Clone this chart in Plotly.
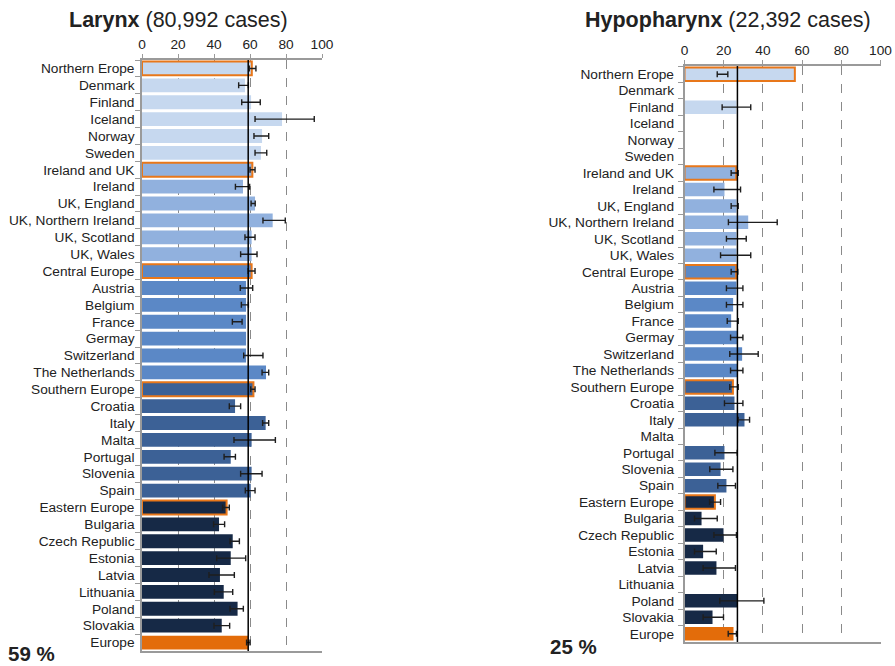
import plotly.graph_objects as go

# Row labels, top to bottom
regions = [
    "Northern Erope", "Denmark", "Finland", "Iceland", "Norway", "Sweden",
    "Ireland and UK", "Ireland", "UK, England", "UK, Northern Ireland", "UK, Scotland", "UK, Wales",
    "Central Europe", "Austria", "Belgium", "France", "Germay", "Switzerland", "The Netherlands",
    "Southern Europe", "Croatia", "Italy", "Malta", "Portugal", "Slovenia", "Spain",
    "Eastern Europe", "Bulgaria", "Czech Republic", "Estonia", "Latvia", "Lithuania", "Poland", "Slovakia",
    "Europe",
]
# Colour group of each row
groups = (["north"] * 6 + ["uk"] * 6 + ["central"] * 7 + ["south"] * 7 + ["east"] * 8 + ["europe"])
# Rows that are regional aggregates (outlined)
aggregates = ["Northern Erope", "Ireland and UK", "Central Europe", "Southern Europe", "Eastern Europe"]

# Larynx: 5-year relative survival (%) and confidence limits
larynx_value = [61.0, 57.2, 60.6, 77.8, 66.7, 66.1,
                61.3, 56.1, 62.8, 72.6, 60.9, 60.9,
                60.9, 57.8, 57.8, 57.8, 57.8, 57.8, 68.9,
                61.9, 51.7, 68.7, 60.9, 49.3, 60.9, 60.4,
                47.0, 42.8, 50.4, 49.3, 43.3, 45.4, 53.1, 44.3,
                59.0]
larynx_lo = [59.6, 53.7, 55.4, 62.8, 62.2, 62.8,
             60.0, 51.9, 60.6, 67.2, 57.2, 54.8,
             59.0, 54.6, 55.2, 50.2, None, 56.5, 66.7,
             60.4, 48.5, 67.0, 51.1, 45.6, 54.8, 57.4,
             44.8, 39.8, 48.9, 41.5, 37.2, 40.2, 48.9, 40.0,
             58.1]
larynx_hi = [63.3, 59.1, 65.7, 95.7, 70.4, 69.3,
             62.8, 59.8, 62.9, 79.6, 62.8, 63.9,
             62.8, 61.5, 59.1, 55.6, None, 67.2, 70.4,
             62.8, 54.8, 70.4, 74.1, 51.9, 66.7, 62.8,
             48.5, 45.9, 54.1, 57.6, 51.3, 50.4, 56.3, 48.7,
             60.0]
larynx_europe = 59

# Hypopharynx
hyp_value = [56.3, None, 26.5, None, None, None,
             26.4, 20.4, 26.5, 32.5, 26.5, 26.5,
             26.4, 26.5, 24.8, 23.8, 27.2, 29.4, 27.2,
             24.7, 25.5, 30.6, None, 20.4, 18.4, 21.4,
             15.5, 8.7, 19.9, 9.5, 16.3, None, 27.2, 14.3,
             25.0]
hyp_lo = [16.7, None, 19.2, None, None, None,
          23.8, 15.0, 23.8, 22.4, 21.4, 18.4,
          23.8, 21.4, 21.4, 21.8, 23.5, 23.1, 23.5,
          23.1, 20.4, 27.4, None, 15.5, 12.9, 17.0,
          12.8, 5.1, 15.0, 5.1, 9.5, None, 18.0, 9.5,
          22.3]
hyp_hi = [22.1, None, 33.8, None, None, None,
          27.4, 28.6, 27.4, 47.3, 31.5, 33.8,
          27.2, 29.8, 29.8, 27.4, 29.8, 37.6, 29.8,
          27.4, 29.8, 33.2, None, 26.9, 24.7, 26.0,
          18.4, 16.7, 26.5, 16.2, 26.0, None, 40.5, 19.9,
          26.5]
hyp_europe = 25
hyp_reference = 27

x_ticks = [0, 20, 40, 60, 80, 100]

group_colors = {
    "north": "#c6d8ef",
    "uk": "#91b1de",
    "central": "#5b88c6",
    "south": "#3c6196",
    "east": "#162946",
    "europe": "#e36c0a",
}
outline_color = "#e8771a"

W, H = 895, 666
FONT = "Arial, Liberation Sans, sans-serif"


def px_x(p):
    return p / W


def px_y(p):
    return 1 - p / H


bar_colors = [group_colors[g] for g in groups]
line_colors = [outline_color if r in aggregates else "rgba(0,0,0,0)" for r in regions]
line_widths = [2 if r in aggregates else 0 for r in regions]

fig = go.Figure()


def add_panel(values, lo, hi, xa, ya):
    fig.add_trace(go.Bar(
        x=values, y=regions, orientation="h",
        marker=dict(color=bar_colors, line=dict(color=line_colors, width=line_widths)),
        xaxis=xa, yaxis=ya, showlegend=False, hoverinfo="skip",
    ))
    ex, ey, err = [], [], []
    for r, a, b in zip(regions, lo, hi):
        if a is None or b is None:
            continue
        ex.append((a + b) / 2)
        ey.append(r)
        err.append((b - a) / 2)
    fig.add_trace(go.Scatter(
        x=ex, y=ey, mode="markers",
        marker=dict(size=1, opacity=0),
        error_x=dict(type="data", array=err, symmetric=True, color="#1e1e1e", thickness=1.4, width=3),
        xaxis=xa, yaxis=ya, showlegend=False, hoverinfo="skip",
    ))


add_panel(larynx_value, larynx_lo, larynx_hi, "x", "y")
add_panel(hyp_value, hyp_lo, hyp_hi, "x2", "y2")

axis_font = dict(family=FONT, size=13.7, color="#222222")

xaxis_common = dict(
    range=[0, 100], side="top", tickvals=x_ticks, ticktext=[str(t) for t in x_ticks],
    ticks="outside", ticklen=4, tickcolor="#9a9a9a", tickwidth=1,
    showline=True, linecolor="#9a9a9a", linewidth=1.5, mirror=True,
    showgrid=True, gridcolor="#8a8a8a", gridwidth=1, griddash="dash",
    zeroline=False, tickfont=axis_font, fixedrange=True, automargin=False,
)
yaxis_common = dict(
    categoryorder="array", categoryarray=regions,
    range=[len(regions) - 0.5, -0.5],
    ticks="outside", ticklen=5, tickcolor="#9a9a9a", tickwidth=1, tickson="boundaries",
    showline=True, linecolor="#9a9a9a", linewidth=1.5,
    showgrid=False, zeroline=False, tickfont=axis_font, fixedrange=True, automargin=False,
)

fig.update_layout(
    width=W, height=H, autosize=False,
    margin=dict(l=0, r=0, t=0, b=0, pad=0),
    paper_bgcolor="white", plot_bgcolor="white",
    bargap=0.18,
    font=dict(family=FONT, color="#222222"),
    xaxis=dict(xaxis_common, domain=[px_x(142), px_x(322)], anchor="y"),
    yaxis=dict(yaxis_common, domain=[px_y(651), px_y(60)], anchor="x", ticklabelstandoff=3),
    xaxis2=dict(xaxis_common, domain=[px_x(684.5), px_x(880.5)], anchor="y2"),
    yaxis2=dict(yaxis_common, domain=[px_y(642), px_y(66)], anchor="x2", ticklabelstandoff=6),
)

# Reference lines
fig.add_shape(type="line", xref="x", yref="y domain", x0=larynx_europe, x1=larynx_europe, y0=0, y1=1,
              line=dict(color="black", width=1.5), layer="above")
fig.add_shape(type="line", xref="x2", yref="y2 domain", x0=hyp_reference, x1=hyp_reference, y0=0, y1=1,
              line=dict(color="black", width=1.5), layer="above")

title_font = dict(family=FONT, size=21.5, color="#222222")
fig.add_annotation(text="<b>Larynx</b> (80,992 cases)", xref="paper", yref="paper",
                   x=px_x(178), y=px_y(20), xanchor="center", yanchor="middle",
                   showarrow=False, font=title_font)
fig.add_annotation(text="<b>Hypopharynx</b> (22,392 cases)", xref="paper", yref="paper",
                   x=px_x(727.5), y=px_y(20), xanchor="center", yanchor="middle",
                   showarrow=False, font=title_font)

pct_font = dict(family=FONT, size=20.5, color="#222222")
fig.add_annotation(text=f"<b>{larynx_europe} %</b>", xref="paper", yref="paper",
                   x=px_x(7), y=0, xanchor="left", yanchor="bottom",
                   showarrow=False, font=pct_font, borderpad=0)
fig.add_annotation(text=f"<b>{hyp_europe} %</b>", xref="paper", yref="paper",
                   x=px_x(548), y=px_y(646), xanchor="left", yanchor="middle",
                   showarrow=False, font=pct_font)

fig.write_html("out.html")
